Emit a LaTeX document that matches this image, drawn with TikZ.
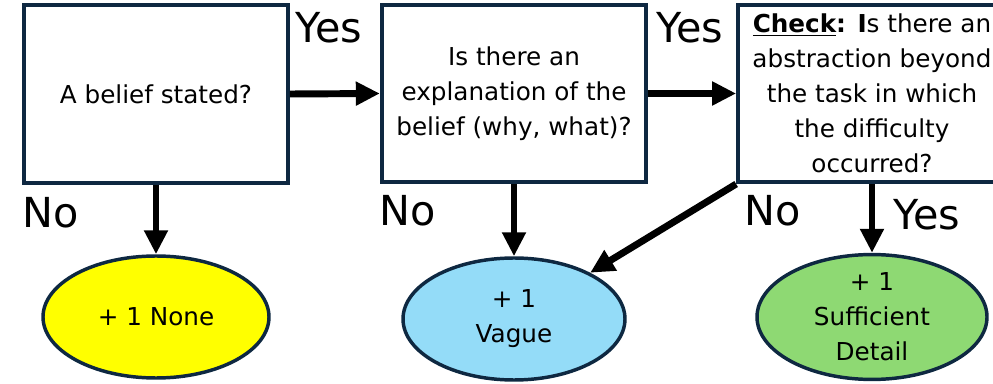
\documentclass[tikz,border=0pt]{standalone}
\usepackage{fontspec}
\setmainfont{DejaVu Sans}
\usetikzlibrary{arrows.meta,shapes.geometric}
\definecolor{bordercol}{HTML}{0E2841}
\definecolor{yellowfill}{HTML}{FFFF00}
\definecolor{bluefill}{HTML}{94DCF8}
\definecolor{greenfill}{HTML}{8ED973}
\tikzset{
  qbox/.style={draw=bordercol, line width=2.8pt, fill=white, inner sep=0pt, align=center,
    font=\fontsize{18.5}{26.25}\selectfont},
  result/.style={ellipse, draw=bordercol, line width=2.6pt, inner sep=0pt, align=center,
    font=\fontsize{18.5}{26.25}\selectfont},
  biglabel/.style={inner sep=0pt, font=\fontsize{31}{36}\selectfont},
  flow/.style={line width=5.2pt, -{Triangle[length=18pt,width=17pt]}}
}
\begin{document}
\begin{tikzpicture}[x=0.75pt,y=-0.75pt]
\useasboundingbox (0,0) rectangle (993,384);
% question boxes
\node[qbox, minimum width=198pt, minimum height=133pt] (b1) at (156,94) {A belief stated?};
\node[qbox, minimum width=198.5pt, minimum height=133pt] (b2) at (514,93.5)
  {Is there an\\explanation of the\\belief (why, what)?};
\node[qbox, minimum width=201pt, minimum height=133pt] (b3) at (872,93.5)
  {\textbf{\underline{Check}: I}s there an\\abstraction beyond\\the task in which\\the difficulty\\occurred?};
% results
\node[result, fill=yellowfill, minimum width=169.5pt, minimum height=91.5pt] (e1) at (156,317) {+ 1 None};
\node[result, fill=bluefill, minimum width=166.5pt, minimum height=91.5pt] (e2) at (514,319) {+ 1\\Vague};
\node[result, fill=greenfill, minimum width=172.5pt, minimum height=91.5pt] (e3) at (872,317) {+ 1\\Sufficient\\Detail};
% labels
\node[biglabel] (y1) at (329,28) {Yes};
\node[biglabel] (y2) at (690,28) {Yes};
\node[biglabel] (n1) at (51,213) {No};
\node[biglabel] (n2) at (408,211) {No};
\node[biglabel] (n3) at (773,211) {No};
\node[biglabel] (y3) at (927,215) {Yes};
% connectors
\draw[flow] (b1.east) -- (b2.west);
\draw[flow] (b2.east) -- (b3.west);
\draw[flow] (b1.south) -- (e1.north);
\draw[flow] (b2.south) -- (e2.north);
\draw[flow] (b3.south) -- (e3.north);
\draw[flow] (b3.south west) -- (e2);
\end{tikzpicture}
\end{document}
